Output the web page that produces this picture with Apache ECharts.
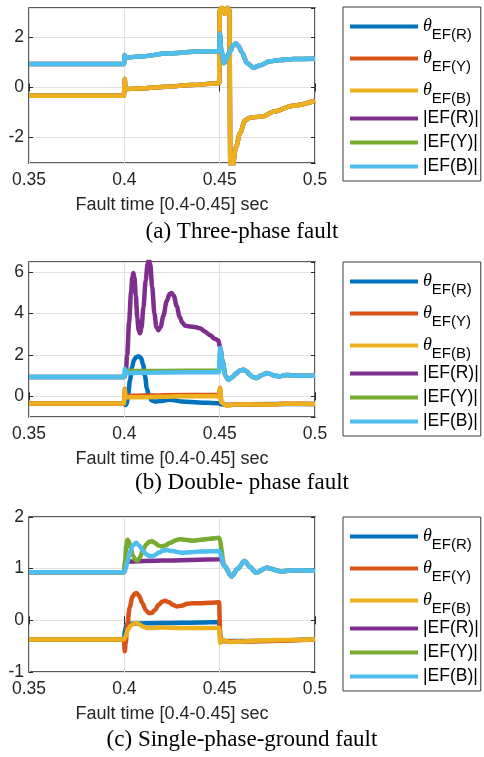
<!DOCTYPE html>
<html><head><meta charset="utf-8">
<script src="https://cdn.jsdelivr.net/npm/echarts@6/dist/echarts.min.js"></script>
<style>html,body{margin:0;padding:0;background:#fff;}#c{width:484px;height:757px;}</style>
</head><body><div id="c"></div>
<script>
// ---------- labels ----------
const seriesNames = ['θR', 'θY', 'θB', '|EF(R)|', '|EF(Y)|', '|EF(B)|'];
const subLabels = { 'θR': 'EF(R)', 'θY': 'EF(Y)', 'θB': 'EF(B)' };
const captions = ['(a) Three-phase fault', '(b) Double- phase fault', '(c) Single-phase-ground fault'];
const xName = 'Fault time [0.4-0.45] sec';
const xMin = 0.35, xMax = 0.5, xStep = 0.05;
const yRanges = [[-3.02, 3.18], [-1, 6.5], [-1, 2]];

// ---------- (a) three-phase fault ----------
const a_theta = [[0.35,-0.33],[0.3998,-0.33],[0.4002,0.34],[0.4006,-0.06],[0.41,-0.03],[0.422,0.03],[0.435,0.1],[0.4497,0.17],[0.4501,3.1],[0.4512,3.2],[0.4527,2.95],[0.4541,3.2],[0.4551,3.1],[0.4556,-3.2],[0.4567,-3.2],[0.4585,-2.4],[0.4607,-1.82],[0.4633,-1.32],[0.4655,-1.22],[0.4675,-1.19],[0.4727,-1.16],[0.478,-0.97],[0.4885,-0.73],[0.5,-0.53]];
const a_mag = [[0.35,0.94],[0.3998,0.94],[0.4002,1.3],[0.4007,1.2],[0.41,1.25],[0.422,1.36],[0.4397,1.44],[0.4497,1.46],[0.4501,2.15],[0.4508,1.5],[0.4522,0.98],[0.4555,1.45],[0.4572,1.7],[0.4585,1.76],[0.46,1.65],[0.4615,1.42],[0.4645,0.97],[0.4677,0.79],[0.471,0.88],[0.4764,1.05],[0.482,1.1],[0.4885,1.14],[0.5,1.15]];

// ---------- (b) double-phase fault ----------
const b_R = [[0.35,-0.35],[0.3998,-0.35],[0.4006,-0.42],[0.4012,-0.35],[0.402,0.1],[0.403,0.8],[0.404,1.4],[0.405,1.75],[0.4062,1.9],[0.4075,1.94],[0.4088,1.85],[0.4098,1.55],[0.4108,1.0],[0.4118,0.4],[0.413,-0.05],[0.4145,-0.2],[0.416,-0.25],[0.419,-0.23],[0.4225,-0.18],[0.4245,-0.16],[0.4265,-0.19],[0.43,-0.25],[0.435,-0.28],[0.443,-0.31],[0.4497,-0.33],[0.4505,-0.38],[0.455,-0.41],[0.465,-0.38],[0.5,-0.37]];
const b_Y = [[0.35,-0.35],[0.3998,-0.35],[0.4002,0.36],[0.4006,0.02],[0.42,0.05],[0.4497,0.07],[0.4502,0.4],[0.4509,-0.3],[0.4537,-0.44],[0.458,-0.4],[0.465,-0.38],[0.475,-0.4],[0.485,-0.36],[0.5,-0.37]];
const b_B = [[0.35,-0.35],[0.3998,-0.35],[0.4002,0.32],[0.4006,-0.05],[0.41,-0.04],[0.42,-0.02],[0.43,0.0],[0.4497,0.0],[0.4502,0.41],[0.4509,-0.3],[0.4537,-0.44],[0.458,-0.4],[0.465,-0.38],[0.475,-0.4],[0.485,-0.36],[0.5,-0.37]];
const b_post = [[0.4515,1.7],[0.453,1.0],[0.4545,0.81],[0.4565,0.92],[0.4585,1.1],[0.4605,1.24],[0.4624,1.29],[0.464,1.22],[0.4658,1.05],[0.4675,0.93],[0.4694,0.89],[0.472,1.02],[0.4747,1.13],[0.4765,1.08],[0.4785,1.0],[0.4816,0.97],[0.485,1.03],[0.49,1.0],[0.5,1.0]];
const b_magR = [[0.35,0.93],[0.4,0.93],[0.4008,1.2],[0.4015,2.0],[0.4025,3.6],[0.4035,5.0],[0.4042,5.75],[0.4047,5.97],[0.4053,5.75],[0.406,4.9],[0.4068,3.8],[0.4075,3.2],[0.4082,3.05],[0.409,3.3],[0.41,4.3],[0.4112,5.6],[0.4122,6.4],[0.4129,6.6],[0.4136,6.4],[0.4146,5.3],[0.4158,4.0],[0.4168,3.35],[0.4178,3.2],[0.419,3.35],[0.4205,3.9],[0.4222,4.6],[0.4237,4.95],[0.4248,5.0],[0.426,4.85],[0.4275,4.35],[0.429,3.85],[0.4305,3.55],[0.432,3.42],[0.4344,3.38],[0.437,3.36],[0.4397,3.3],[0.442,3.15],[0.445,2.95],[0.4475,2.78],[0.4493,2.7],[0.4503,2.35]];
const b_magY = [[0.35,0.93],[0.3998,0.93],[0.4006,1.22],[0.42,1.23],[0.4497,1.25],[0.4503,2.3]];
const b_magB = [[0.35,0.93],[0.3998,0.93],[0.4003,1.33],[0.4008,1.13],[0.42,1.15],[0.4497,1.17],[0.4503,2.34]];

// ---------- (c) single-phase-ground fault ----------
const c_R = [[0.35,-0.37],[0.3998,-0.37],[0.4003,-0.2],[0.401,-0.1],[0.402,-0.07],[0.405,-0.06],[0.42,-0.05],[0.44,-0.04],[0.4497,-0.03],[0.4505,-0.4],[0.46,-0.4],[0.5,-0.37]];
const c_Y = [[0.35,-0.37],[0.3998,-0.37],[0.4002,-0.6],[0.4007,-0.45],[0.4015,-0.1],[0.4028,0.25],[0.4042,0.45],[0.4055,0.52],[0.4065,0.53],[0.4078,0.47],[0.4095,0.33],[0.4112,0.2],[0.4128,0.14],[0.4144,0.14],[0.416,0.2],[0.418,0.3],[0.4198,0.36],[0.4213,0.38],[0.4235,0.35],[0.4255,0.3],[0.4274,0.27],[0.43,0.28],[0.433,0.32],[0.4362,0.33],[0.44,0.33],[0.445,0.34],[0.4497,0.35],[0.4503,-0.3],[0.4508,-0.4],[0.46,-0.41],[0.5,-0.37]];
const c_B = [[0.35,-0.37],[0.3998,-0.37],[0.4008,-0.3],[0.402,-0.17],[0.4035,-0.1],[0.405,-0.06],[0.4065,-0.05],[0.408,-0.08],[0.4098,-0.12],[0.412,-0.15],[0.4135,-0.15],[0.42,-0.14],[0.43,-0.15],[0.4497,-0.15],[0.4503,-0.44],[0.452,-0.38],[0.455,-0.42],[0.4607,-0.41],[0.47,-0.39],[0.48,-0.38],[0.5,-0.37]];
const c_post = [[0.4525,1.05],[0.4562,0.85],[0.4595,1.0],[0.463,1.15],[0.466,1.03],[0.469,0.92],[0.4747,1.02],[0.4816,0.95],[0.49,0.97],[0.5,0.96]];
const c_magR = [[0.35,0.93],[0.3998,0.93],[0.4008,1.14],[0.42,1.16],[0.4497,1.18],[0.4505,1.2]];
const c_magY = [[0.35,0.93],[0.3998,0.93],[0.4004,1.15],[0.401,1.45],[0.4016,1.56],[0.4023,1.53],[0.4033,1.4],[0.4045,1.25],[0.4058,1.17],[0.407,1.16],[0.4082,1.22],[0.4098,1.36],[0.4115,1.47],[0.413,1.52],[0.4145,1.53],[0.416,1.5],[0.4178,1.45],[0.4195,1.43],[0.4215,1.45],[0.424,1.5],[0.427,1.55],[0.4292,1.57],[0.432,1.56],[0.436,1.54],[0.44,1.56],[0.4449,1.58],[0.4497,1.6]];
const c_magB = [[0.35,0.93],[0.3998,0.93],[0.4005,0.97],[0.4015,1.12],[0.403,1.33],[0.4045,1.45],[0.4062,1.5],[0.4078,1.45],[0.4095,1.36],[0.4115,1.28],[0.4135,1.24],[0.4155,1.25],[0.418,1.31],[0.4205,1.35],[0.4225,1.36],[0.425,1.34],[0.43,1.31],[0.435,1.32],[0.44,1.33],[0.4497,1.34]];

const panels = [
  [a_theta, a_theta, a_theta, a_mag, a_mag, a_mag],
  [b_R, b_Y, b_B, b_magR.concat(b_post), b_magY.concat(b_post), b_magB.concat(b_post)],
  [c_R, c_Y, c_B, c_magR.concat(c_post), c_magY.concat(c_post), c_magB.concat(c_post)]
];

// ---------- styling / layout ----------
const colors = ['#0072BD', '#D95319', '#EDB120', '#7E2F8E', '#77AC30', '#4DBEEE'];
const gridTops = [8, 262, 517];
const gridLeft = 29, gridW = 286, gridH = 155;
const legendTops = [7, 262, 517];
const captionTops = [220, 471, 728];
const ink = '#262626';
const gridColor = '#e0e0e0';
const sans = 'Liberation Sans';

const chart = echarts.init(document.getElementById('c'), null, { renderer: 'canvas' });

const grid = [], xAxis = [], yAxis = [], series = [], legend = [], title = [];
for (let p = 0; p < 3; p++) {
  grid.push({ left: gridLeft, top: gridTops[p], width: gridW, height: gridH, show: true,
    borderColor: ink, borderWidth: 1.5, backgroundColor: 'transparent' });
}
for (let p = 0; p < 3; p++) {
  xAxis.push({ gridIndex: p, type: 'value', min: xMin, max: xMax, interval: xStep,
    axisLine: { show: false },
    axisTick: { inside: true, length: 4, lineStyle: { color: ink, width: 1 } },
    axisLabel: { fontFamily: sans, fontSize: 17.5, color: ink, margin: 8 },
    splitLine: { show: true, lineStyle: { color: gridColor, width: 1 } },
    name: xName, nameLocation: 'middle', nameGap: 33,
    nameTextStyle: { fontFamily: sans, fontSize: 18, color: ink } });
}
for (let p = 0; p < 3; p++) {
  xAxis.push({ gridIndex: p, type: 'value', position: 'top', min: xMin, max: xMax, interval: xStep,
    axisLine: { show: false }, axisLabel: { show: false }, splitLine: { show: false },
    axisTick: { inside: true, length: 4, lineStyle: { color: ink, width: 1 } } });
}
function yBase(p) {
  const o = { gridIndex: p, type: 'value', min: yRanges[p][0], max: yRanges[p][1] };
  if (p === 2) { o.interval = 1; } else { o.splitNumber = p === 0 ? 3 : 4; }
  return o;
}
for (let p = 0; p < 3; p++) {
  yAxis.push(Object.assign(yBase(p), {
    axisLine: { show: false },
    axisTick: { inside: true, length: 4, lineStyle: { color: ink, width: 1 } },
    axisLabel: { fontFamily: sans, fontSize: 17.5, color: ink, margin: 5,
      showMinLabel: p === 2, showMaxLabel: p === 2 },
    splitLine: { show: true, lineStyle: { color: gridColor, width: 1 } } }));
}
for (let p = 0; p < 3; p++) {
  yAxis.push(Object.assign(yBase(p), { position: 'right',
    axisLine: { show: false }, axisLabel: { show: false }, splitLine: { show: false },
    axisTick: { inside: true, length: 4, lineStyle: { color: ink, width: 1 } } }));
}
for (let p = 0; p < 3; p++) {
  for (let k = 0; k < 6; k++) {
    series.push({ type: 'line', name: seriesNames[k], xAxisIndex: p, yAxisIndex: p,
      data: panels[p][k], showSymbol: false, symbol: 'none', smooth: 0.3, smoothMonotone: 'x',
      color: colors[k], lineStyle: { width: 4.5, color: colors[k] }, z: 2 + k });
  }
  legend.push({ orient: 'vertical', left: 343, top: legendTops[p], data: seriesNames,
    icon: 'rect', itemWidth: 68, itemHeight: 4, itemGap: 1, padding: [4, 2, 3, 7],
    borderColor: '#3a3a3a', borderWidth: 1, backgroundColor: '#fff',
    formatter: function (n) { return subLabels[n] ? '{t|θ}{s|' + subLabels[n] + '}' : n; },
    textStyle: { fontFamily: sans, fontSize: 17.5, color: '#000', lineHeight: 23,
      rich: {
        t: { fontFamily: 'Liberation Serif', fontStyle: 'italic', fontSize: 18, lineHeight: 16, color: '#000' },
        s: { fontFamily: sans, fontSize: 15, lineHeight: 14, padding: [16, 0, 0, 0], color: '#000' }
      } } });
  title.push({ text: captions[p], left: 'center', top: captionTops[p], padding: 0,
    textStyle: { fontFamily: 'Liberation Serif', fontSize: 23, fontWeight: 'normal', color: '#000' } });
}

chart.setOption({ animation: false, backgroundColor: '#fff', grid, xAxis, yAxis, series, legend, title });
</script>
</body></html>
